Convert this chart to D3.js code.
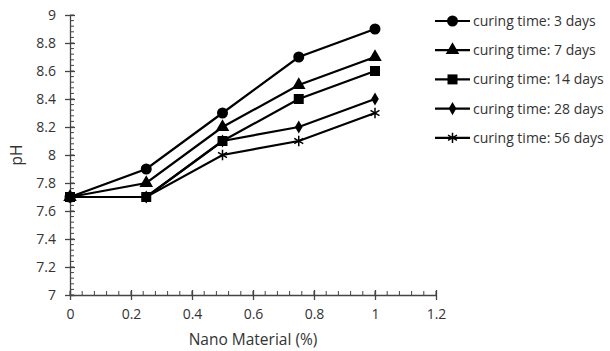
<!DOCTYPE html>
<html>
<head>
<meta charset="utf-8">
<script src="https://cdn.jsdelivr.net/npm/d3@7"></script>
<style>
  body { margin: 0; background: #fff; }
  text { font-family: "Open Sans", sans-serif; fill: #333; }
</style>
</head>
<body>
<div id="chart"></div>
<script>
const xValues = [0, 0.25, 0.5, 0.75, 1];
const seriesNames = ["curing time: 3 days", "curing time: 7 days", "curing time: 14 days", "curing time: 28 days", "curing time: 56 days"];
const day3 = [7.7, 7.9, 8.3, 8.7, 8.9];
const day7 = [7.7, 7.8, 8.2, 8.5, 8.7];
const day14 = [7.7, 7.7, 8.1, 8.4, 8.6];
const day28 = [7.7, 7.7, 8.1, 8.2, 8.4];
const day56 = [7.7, 7.7, 8.0, 8.1, 8.3];
const xTicks = [0, 0.2, 0.4, 0.6, 0.8, 1, 1.2];
const yTicks = [7, 7.2, 7.4, 7.6, 7.8, 8, 8.2, 8.4, 8.6, 8.8, 9];

const allSeries = [day3, day7, day14, day28, day56];
const symbols = [d3.symbolCircle, d3.symbolTriangle, d3.symbolSquare, d3.symbolDiamond, d3.symbolAsterisk];
const symSizes = [95, 80, 100, 50, 75];

const svgWidth = 610, svgHeight = 351;
const margin = { top: 15, right: 174, bottom: 56, left: 70 };
const width = svgWidth - margin.left - margin.right;
const height = svgHeight - margin.top - margin.bottom;

const svg = d3.select("#chart").append("svg")
    .attr("width", svgWidth)
    .attr("height", svgHeight);
const g = svg.append("g")
    .attr("transform", "translate(" + margin.left + "," + margin.top + ")");

const x = d3.scaleLinear().domain([0, 1.2]).range([0, width]);
const y = d3.scaleLinear().domain([7, 9]).range([height, 0]);

// minor ticks (inside)
const xMinor = d3.range(0, 1.2001, 0.04);
const yMinor = d3.range(7, 9.0001, 0.04);
g.append("g").selectAll("line").data(xMinor).join("line")
    .attr("x1", d => x(d)).attr("x2", d => x(d))
    .attr("y1", height).attr("y2", height - 4)
    .attr("stroke", "#444").attr("stroke-width", 1);
g.append("g").selectAll("line").data(yMinor).join("line")
    .attr("y1", d => y(d)).attr("y2", d => y(d))
    .attr("x1", 0).attr("x2", 4)
    .attr("stroke", "#444").attr("stroke-width", 1);

// axes
const xAxis = g.append("g")
    .attr("transform", "translate(0," + height + ")")
    .call(d3.axisBottom(x).tickValues(xTicks).tickFormat(d3.format("")).tickSizeInner(5).tickSizeOuter(0).tickPadding(9));
xAxis.selectAll(".tick line").attr("y1", -5);
const yAxis = g.append("g")
    .call(d3.axisLeft(y).tickValues(yTicks).tickFormat(d3.format("")).tickSizeInner(5).tickSizeOuter(0).tickPadding(9));
yAxis.selectAll(".tick line").attr("x1", 5);
[xAxis, yAxis].forEach(a => {
    a.select(".domain").attr("stroke", "#444").attr("stroke-width", 1.3);
    a.selectAll(".tick line").attr("stroke", "#444").attr("stroke-width", 1.3);
    a.selectAll("text").style("font-size", "14px").attr("fill", "#333");
});

// lines and markers
const line = d3.line()
    .x((d, i) => x(xValues[i]))
    .y(d => y(d));

allSeries.forEach((s, k) => {
    g.append("path")
        .datum(s)
        .attr("fill", "none")
        .attr("stroke", "#000")
        .attr("stroke-width", 2.2)
        .attr("d", line);
    g.append("g").selectAll("path").data(s).join("path")
        .attr("transform", (d, i) => "translate(" + x(xValues[i]) + "," + y(d) + ")")
        .attr("d", d3.symbol().type(symbols[k]).size(symSizes[k]))
        .attr("fill", "#000")
        .attr("stroke", "#000")
        .attr("stroke-width", symbols[k] === d3.symbolAsterisk ? 1.5 : 0);
});

// axis titles
svg.append("text")
    .attr("x", margin.left + x(0.6))
    .attr("y", 345)
    .attr("text-anchor", "middle")
    .style("font-size", "15.5px")
    .text("Nano Material (%)");
svg.append("text")
    .attr("transform", "translate(22," + (margin.top + y(8)) + ") rotate(-90)")
    .attr("text-anchor", "middle")
    .style("font-size", "15.5px")
    .text("pH");

// legend
const legend = svg.append("g").attr("transform", "translate(435,21)");
seriesNames.forEach((name, k) => {
    const row = legend.append("g").attr("transform", "translate(0," + (k * 29.2) + ")");
    row.append("line")
        .attr("x1", 0).attr("x2", 35).attr("y1", 0).attr("y2", 0)
        .attr("stroke", "#000").attr("stroke-width", 2.2);
    row.append("path")
        .attr("transform", "translate(17.5,0)")
        .attr("d", d3.symbol().type(symbols[k]).size(symSizes[k]))
        .attr("fill", "#000")
        .attr("stroke", "#000")
        .attr("stroke-width", symbols[k] === d3.symbolAsterisk ? 1.5 : 0);
    row.append("text")
        .attr("x", 38).attr("y", 5)
        .style("font-size", "14px")
        .text(name);
});
</script>
</body>
</html>
